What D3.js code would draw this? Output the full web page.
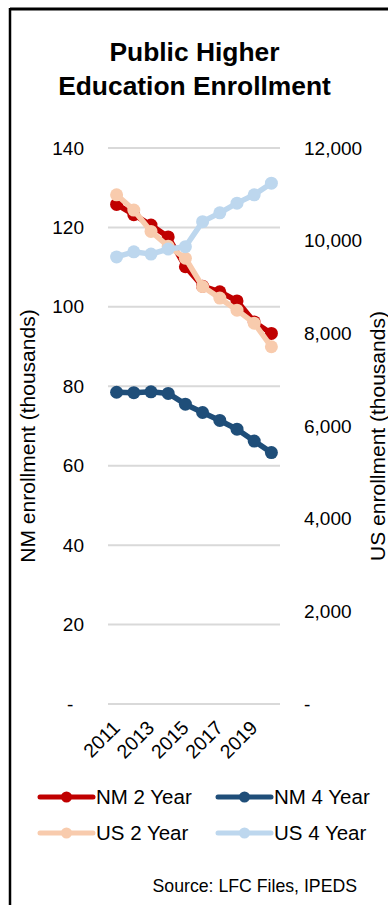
<!DOCTYPE html>
<html>
<head>
<meta charset="utf-8">
<script src="https://cdn.jsdelivr.net/npm/d3@7"></script>
<style>
  html, body { margin: 0; padding: 0; background: #fff; }
  svg { display: block; font-family: Arial, "Liberation Sans", sans-serif; }
</style>
</head>
<body>
<svg id="chart" width="388" height="905"></svg>
<script>
// Enrollment by year, in thousands
const years = [2011, 2012, 2013, 2014, 2015, 2016, 2017, 2018, 2019, 2020];
const nm2Year = [125.8, 123.2, 120.6, 117.6, 110.1, 105.2, 103.8, 101.5, 96.2, 93.3];
const nm4Year = [78.5, 78.4, 78.6, 78.2, 75.5, 73.4, 71.4, 69.2, 66.2, 63.3];
const us2Year = [10990, 10660, 10200, 9880, 9620, 9010, 8760, 8500, 8220, 7710];
const us4Year = [9650, 9760, 9710, 9820, 9870, 10410, 10600, 10810, 10990, 11240];

const leftTicks = [0, 20, 40, 60, 80, 100, 120, 140];
const rightTicks = [0, 2000, 4000, 6000, 8000, 10000, 12000];
const xTickYears = [2011, 2013, 2015, 2017, 2019];

const seriesNames = ["NM 2 Year", "NM 4 Year", "US 2 Year", "US 4 Year"];
const seriesColors = ["#C00000", "#1F4E79", "#F8CBAD", "#BDD7EE"];

const svg = d3.select("#chart");
const plot = { left: 108, right: 280, top: 148, bottom: 704 };
const font = "Arial, 'Liberation Sans', sans-serif";

const x = d3.scalePoint().domain(years).range([plot.left, plot.right]).padding(0.5);
const yLeft = d3.scaleLinear().domain([0, 140]).range([plot.bottom, plot.top]);
const yRight = d3.scaleLinear().domain([0, 12000]).range([plot.bottom, plot.top]);

// frame
svg.append("line").attr("x1", 10).attr("x2", 388).attr("y1", 9).attr("y2", 9)
  .attr("stroke", "#000").attr("stroke-width", 3);
svg.append("line").attr("x1", 10).attr("x2", 10).attr("y1", 8).attr("y2", 905)
  .attr("stroke", "#000").attr("stroke-width", 2.5);

// title
const title = svg.append("text").attr("text-anchor", "middle")
  .attr("font-weight", "bold").attr("font-size", 26.4).attr("fill", "#000");
title.append("tspan").attr("x", 194.5).attr("y", 61).text("Public Higher");
title.append("tspan").attr("x", 194.5).attr("y", 95).text("Education Enrollment");

// gridlines
svg.append("g").selectAll("line").data(leftTicks).join("line")
  .attr("x1", plot.left).attr("x2", plot.right)
  .attr("y1", d => yLeft(d)).attr("y2", d => yLeft(d))
  .attr("stroke", "#d9d9d9").attr("stroke-width", 2);

const numFmt = d3.format(",");

// left axis
const leftAxis = svg.append("g").attr("transform", `translate(${plot.left - 24},0)`)
  .call(d3.axisLeft(yLeft).tickValues(leftTicks).tickSize(0).tickPadding(0)
    .tickFormat(d => d === 0 ? "-\u2007" : numFmt(d)));
leftAxis.select(".domain").remove();
leftAxis.selectAll("text").attr("font-size", 19).attr("fill", "#000").attr("font-family", font);

// right axis
const rightAxis = svg.append("g").attr("transform", `translate(${plot.right + 24},0)`)
  .call(d3.axisRight(yRight).tickValues(rightTicks).tickSize(0).tickPadding(0)
    .tickFormat(d => d === 0 ? "-" : numFmt(d)));
rightAxis.select(".domain").remove();
rightAxis.selectAll("text").attr("font-size", 19).attr("fill", "#000").attr("font-family", font);

// bottom axis, rotated year labels
const bottomAxis = svg.append("g").attr("transform", `translate(0,${plot.bottom})`)
  .call(d3.axisBottom(x).tickValues(xTickYears).tickSize(0).tickPadding(0));
bottomAxis.select(".domain").remove();
bottomAxis.selectAll("text")
  .attr("font-size", 19.5).attr("fill", "#000").attr("font-family", font)
  .attr("text-anchor", "end").attr("dy", 0).attr("y", 0)
  .attr("transform", "translate(4,25) rotate(-45)");

// axis titles
const titleMid = 436;
svg.append("text").attr("font-size", 21).attr("fill", "#000").attr("text-anchor", "middle")
  .attr("transform", `translate(35,${titleMid}) rotate(-90)`)
  .text("NM enrollment (thousands)");
svg.append("text").attr("font-size", 21).attr("fill", "#000").attr("text-anchor", "middle")
  .attr("transform", `translate(385,${titleMid}) rotate(-90)`)
  .text("US enrollment (thousands)");

// series: NM on left axis, US on right axis (drawn on top)
const series = [
  { values: nm2Year, y: yLeft },
  { values: nm4Year, y: yLeft },
  { values: us2Year, y: yRight },
  { values: us4Year, y: yRight }
];

series.forEach((s, i) => {
  const pts = years.map((yr, j) => [x(yr), s.y(s.values[j])]);
  const g = svg.append("g");
  g.append("path").attr("d", d3.line()(pts))
    .attr("fill", "none").attr("stroke", seriesColors[i])
    .attr("stroke-width", 5.5).attr("stroke-linejoin", "round");
  g.selectAll("circle").data(pts).join("circle")
    .attr("cx", d => d[0]).attr("cy", d => d[1]).attr("r", 6.5)
    .attr("fill", seriesColors[i]);
});

// legend
const legendItems = [
  { name: seriesNames[0], color: seriesColors[0], x: 40, y: 797 },
  { name: seriesNames[1], color: seriesColors[1], x: 218, y: 797 },
  { name: seriesNames[2], color: seriesColors[2], x: 40, y: 833 },
  { name: seriesNames[3], color: seriesColors[3], x: 218, y: 833 }
];
const lg = svg.append("g").selectAll("g").data(legendItems).join("g")
  .attr("transform", d => `translate(${d.x},${d.y})`);
lg.append("line").attr("x1", 0).attr("x2", 53).attr("y1", 0).attr("y2", 0)
  .attr("stroke", d => d.color).attr("stroke-width", 5).attr("stroke-linecap", "round");
lg.append("circle").attr("cx", 26.5).attr("cy", 0).attr("r", 5.5).attr("fill", d => d.color);
lg.append("text").attr("x", 56).attr("y", 0).attr("dy", "0.36em")
  .attr("font-size", 20.5).attr("fill", "#000").text(d => d.name);

// source note
svg.append("text").attr("x", 357).attr("y", 892).attr("text-anchor", "end")
  .attr("font-size", 17.7).attr("fill", "#000").text("Source: LFC Files, IPEDS");
</script>
</body>
</html>
